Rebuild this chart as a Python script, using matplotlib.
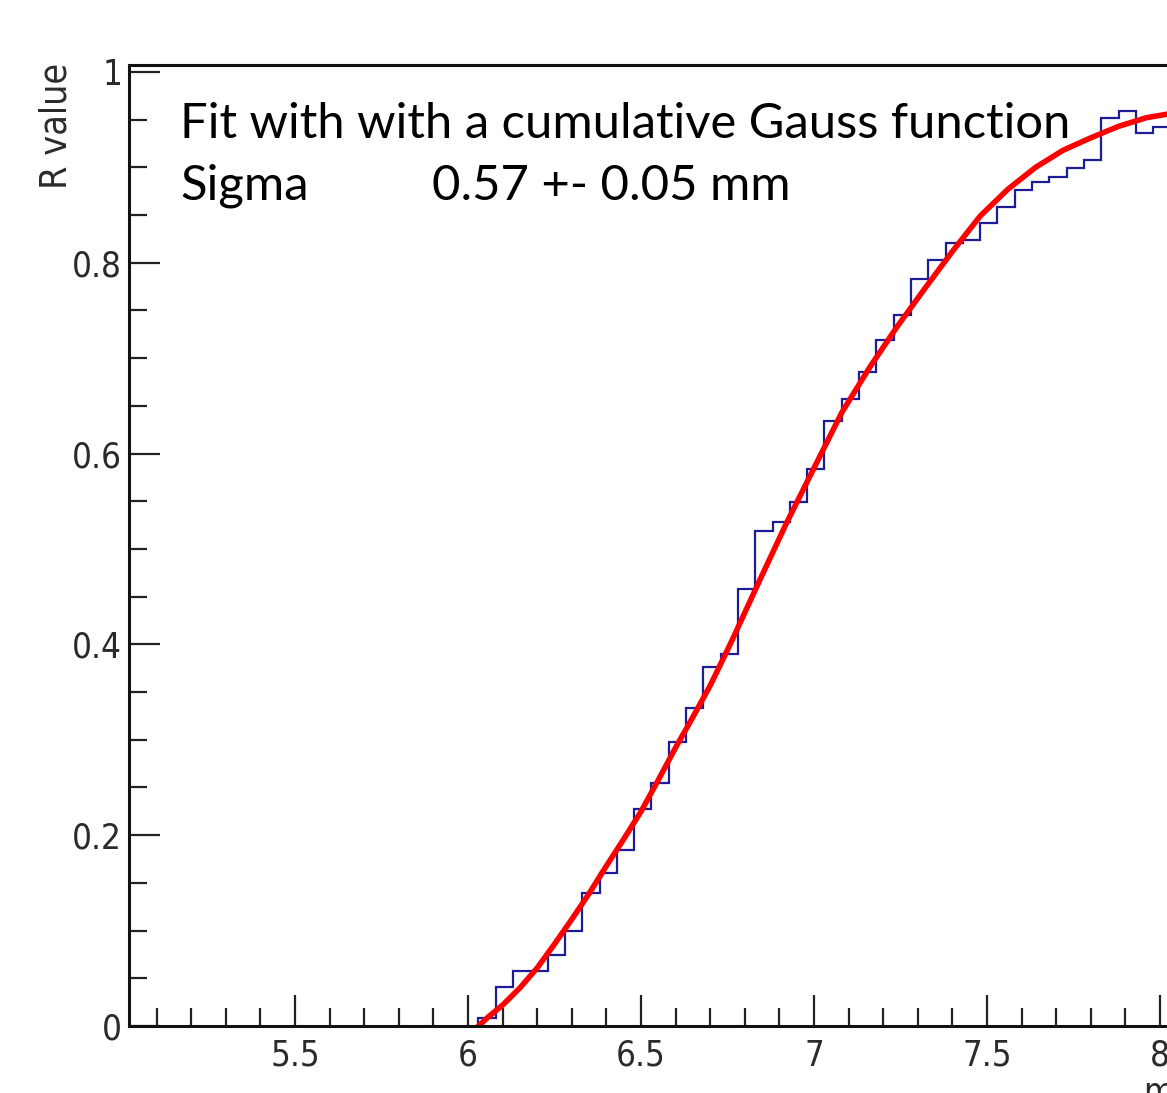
import numpy as np
import matplotlib
matplotlib.use("Agg")
import matplotlib.pyplot as plt
from matplotlib.ticker import MultipleLocator, FuncFormatter

# histogram (bin width 0.05, first edge 6.03)
bin_start = 6.03
bin_width = 0.05
r_values = [0.008, 0.041, 0.058, 0.058, 0.074, 0.100, 0.139, 0.160, 0.184, 0.227,
            0.255, 0.298, 0.333, 0.376, 0.390, 0.458, 0.519, 0.528, 0.549, 0.584,
            0.634, 0.657, 0.686, 0.719, 0.745, 0.783, 0.803, 0.821, 0.824, 0.842,
            0.858, 0.876, 0.885, 0.890, 0.899, 0.908, 0.952, 0.959, 0.936, 0.942]

# fit curve
fit_x = [6.03, 6.06, 6.10, 6.15, 6.20, 6.25, 6.30, 6.35, 6.40, 6.45, 6.50, 6.55,
         6.60, 6.65, 6.70, 6.76, 6.84, 6.92, 7.00, 7.08, 7.16, 7.24, 7.32, 7.40,
         7.48, 7.56, 7.64, 7.72, 7.80, 7.88, 7.96, 8.04]
fit_y = [0.000, 0.010, 0.022, 0.040, 0.061, 0.086, 0.112, 0.139, 0.168, 0.196,
         0.225, 0.258, 0.292, 0.324, 0.357, 0.402, 0.465, 0.527, 0.585, 0.643,
         0.690, 0.733, 0.773, 0.812, 0.849, 0.877, 0.900, 0.918, 0.931, 0.943,
         0.952, 0.957]

x_major = [5.5, 6, 6.5, 7, 7.5, 8]
y_major = [0, 0.2, 0.4, 0.6, 0.8, 1]

W, H = 1167, 1093
fig = plt.figure(figsize=(W / 100, H / 100), dpi=100)

x_left, x_right = 5.02, 8.4
px_per_unit = 346.0
ax_l = 129 / W
ax_b = (H - 1026) / H
ax_h = (1026 - 65) / H
ax_w = (x_right - x_left) * px_per_unit / W
ax = fig.add_axes([ax_l, ax_b, ax_w, ax_h])

edges = bin_start + bin_width * np.arange(len(r_values) + 1)
ax.stairs(r_values, edges, baseline=0, color="#1c1c99", lw=1.6)
ax.plot(fit_x, fit_y, color="#ff0000", lw=4.0, solid_capstyle="round",
        solid_joinstyle="round")

ax.set_xlim(x_left, x_right)
ax.set_ylim(0, 1.0073)

ax.set_xticks(x_major)
ax.set_yticks(y_major)
ax.xaxis.set_minor_locator(MultipleLocator(0.1))
ax.yaxis.set_minor_locator(MultipleLocator(0.05))
fmt = FuncFormatter(lambda v, p: "%g" % v)
ax.xaxis.set_major_formatter(fmt)
ax.yaxis.set_major_formatter(fmt)
ax.tick_params(which="both", direction="in", width=1.6, color="#222222",
               labelsize=25, labelcolor="#2a2a2a")
ax.tick_params(which="major", length=22)
ax.tick_params(which="minor", length=13)
ax.tick_params(axis="x", which="major", pad=9)
ax.tick_params(axis="y", which="major", pad=5)
for lab in ax.get_xticklabels() + ax.get_yticklabels():
    lab.set_family("DejaVu Sans")
    lab.set_fontstretch("condensed")
for s in ax.spines.values():
    s.set_linewidth(2.2)
    s.set_color("#111111")

fig.text(57 / W, 1 - 63 / H, "R value", rotation=90, ha="center", va="top",
         fontsize=27, family="DejaVu Sans", fontstretch="condensed",
         color="#2a2a2a")
fig.text(1143 / W, 1 - 1076 / H, "mm", ha="left", va="top", fontsize=25,
         family="DejaVu Sans", fontstretch="condensed", color="#2a2a2a")

txt_font = ["Lato", "DejaVu Sans"]
ax.text(180 / W, 1 - 138 / H, "Fit with with a cumulative Gauss function",
        transform=fig.transFigure, fontsize=35.3, family=txt_font, color="black",
        ha="left", va="baseline")
ax.text(180 / W, 1 - 200 / H, "Sigma", transform=fig.transFigure, fontsize=35.3,
        family=txt_font, color="black", ha="left", va="baseline")
ax.text(432 / W, 1 - 200 / H, "0.57 +- 0.05 mm", transform=fig.transFigure,
        fontsize=35.3, family=txt_font, color="black", ha="left", va="baseline")

fig.savefig("out.png", dpi=100)
